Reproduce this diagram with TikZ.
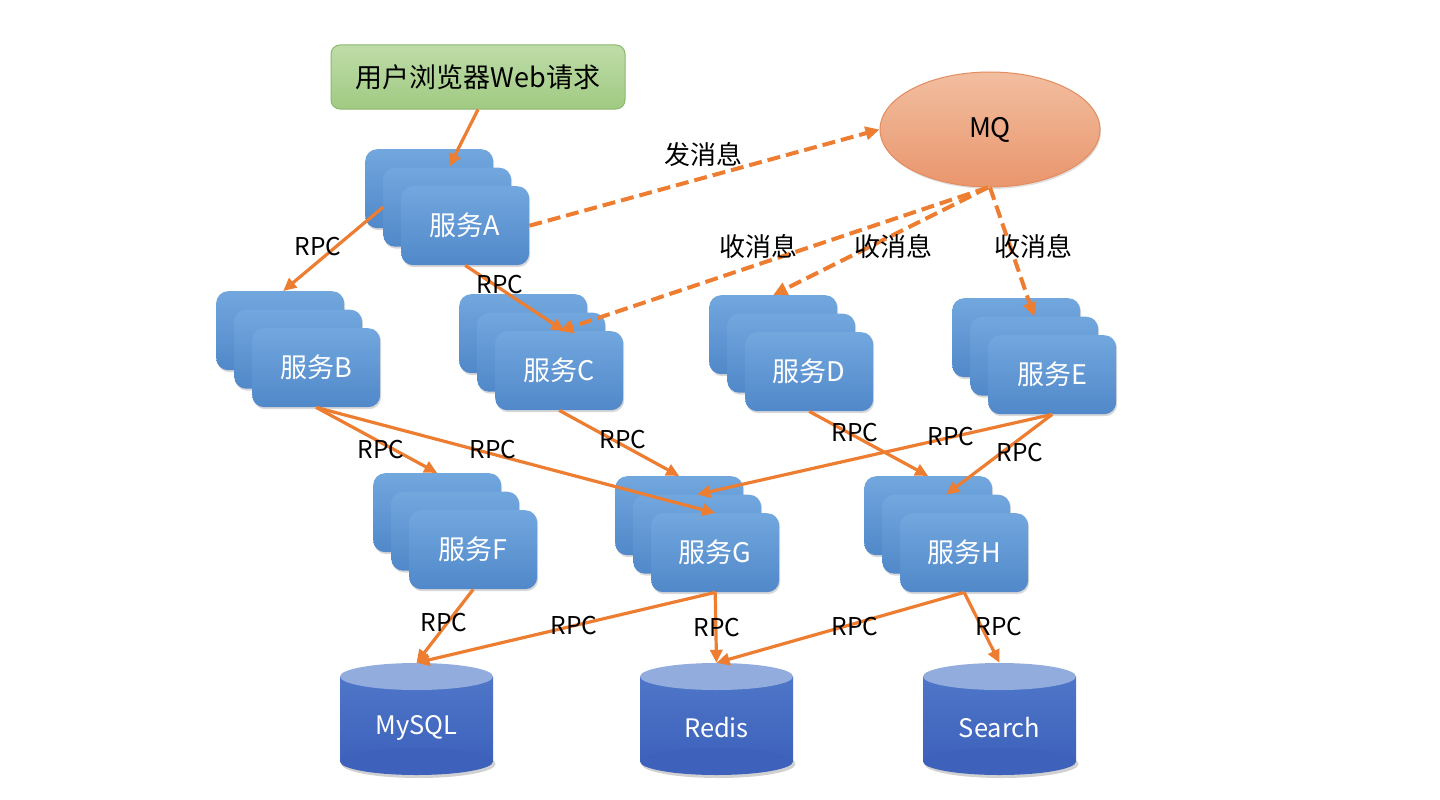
\documentclass[tikz,border=0pt]{standalone}
\usepackage{fontspec}
\setmainfont{Noto Sans CJK SC}
\usetikzlibrary{arrows.meta,shapes.geometric,shadows}
\definecolor{svcTop}{RGB}{114,167,222}
\definecolor{svcBot}{RGB}{80,136,201}
\definecolor{arrowOrange}{RGB}{237,125,49}
\definecolor{webTop}{RGB}{190,220,168}
\definecolor{webBot}{RGB}{160,202,130}
\definecolor{webBorder}{RGB}{140,184,110}
\definecolor{mqTop}{RGB}{242,190,160}
\definecolor{mqBot}{RGB}{233,150,108}
\definecolor{mqBorder}{RGB}{228,140,95}
\definecolor{cylTopc}{RGB}{146,172,222}
\definecolor{cylMid}{RGB}{78,118,200}
\definecolor{cylBot}{RGB}{62,98,188}
\tikzset{
  svc/.style={rectangle, rounded corners=12pt, minimum width=128pt, minimum height=79pt,
    inner sep=0pt, top color=svcTop, bottom color=svcBot, text=white,
    font=\fontsize{27}{31}\selectfont,
    drop shadow={shadow xshift=1pt, shadow yshift=-2pt, opacity=0.3}},
  webbox/.style={rectangle, rounded corners=9pt, minimum width=294pt, minimum height=64pt,
    inner sep=0pt, top color=webTop, bottom color=webBot, draw=webBorder, line width=1pt,
    font=\fontsize{27}{31}\selectfont},
  mqnode/.style={ellipse, minimum width=220pt, minimum height=115pt, inner sep=0pt,
    top color=mqTop, bottom color=mqBot, draw=mqBorder, line width=1pt,
    font=\fontsize{27}{31}\selectfont,
    drop shadow={shadow xshift=1pt, shadow yshift=-2pt, opacity=0.25}},
  rpcarrow/.style={draw=arrowOrange, line width=3.2pt, -{Triangle[length=13pt,width=12pt]}},
  msgarrow/.style={draw=arrowOrange, line width=4pt, dash pattern=on 13pt off 6pt,
    -{Triangle[length=14pt,width=13pt]}},
  rpclbl/.style={font=\fontsize{24.5}{28}\selectfont, text=black, inner sep=0pt},
  cnlbl/.style={font=\fontsize{26}{30}\selectfont, text=black, inner sep=0pt},
  dbtext/.style={font=\fontsize{25.5}{29}\selectfont, text=white, inner sep=0pt},
  dbframe/.style={minimum width=153pt, minimum height=112pt, inner sep=0pt},
}
\newcommand{\svcstack}[4]{%
  \node[svc, anchor=north west] (#1-1) at (#2,#3) {};
  \node[svc, anchor=north west] (#1-2) at ([shift={(18,18.5)}]#1-1.north west) {};
  \node[svc, anchor=north west] (#1-3) at ([shift={(18,18.5)}]#1-2.north west) {#4};
}
\newcommand{\dbcyl}[4]{%
  \fill[black, opacity=0.18] (#2+2,#3+101) ellipse [x radius=77, y radius=14];
  \fill[top color=cylMid, bottom color=cylBot] (#2-76.5,#3+13.5) rectangle (#2+76.5,#3+98.5);
  \fill[cylBot] (#2,#3+98.5) ellipse [x radius=76.5, y radius=13.5];
  \fill[cylTopc] (#2,#3+13.5) ellipse [x radius=76.5, y radius=13.5];
  \node[dbframe] (#1) at (#2,#3+56) {};
  \node[dbtext] (#1-text) at (#2,#3+65) {#4};
}
\begin{document}
\begin{tikzpicture}[x=1pt, y=-1pt]
\useasboundingbox[fill=white] (0,0) rectangle (1440,800);

% top nodes
\node[webbox] (web) at (478,77) {用户浏览器Web请求};
\node[mqnode] (mq) at (990,129.5) {MQ};

% service stacks
\svcstack{A}{365}{149}{服务A}
\svcstack{B}{216}{291}{服务B}
\svcstack{C}{459}{294}{服务C}
\svcstack{D}{709}{295}{服务D}
\svcstack{E}{952}{298}{服务E}
\svcstack{F}{373}{473}{服务F}
\svcstack{G}{615}{476}{服务G}
\svcstack{H}{864}{476}{服务H}

% databases
\dbcyl{mysql}{416.5}{663}{MySQL}
\dbcyl{redis}{716.5}{663}{Redis}
\dbcyl{search}{999.5}{663}{Search}

% connectors
\draw[rpcarrow] (web.south) -- ([shift={(20,-22)}]A-1.center);
\draw[rpcarrow] (A-2.west) -- ([xshift=3pt]B-1.north);
\draw[rpcarrow] (A-3.south) -- ([xshift=5pt]C-3.north);
\draw[msgarrow] (A-3.east) -- (mq.west);
\draw[msgarrow] ([xshift=-2pt]mq.south) -- (C-3.north);
\draw[msgarrow] ([xshift=-2pt]mq.south) -- (D-1.north);
\draw[msgarrow] (mq.south) -- (E-2.north);
\draw[rpcarrow] (B-3.south) -- (F-1.north);
\draw[rpcarrow] (B-3.south) -- (G-3.north);
\draw[rpcarrow] (C-3.south) -- (G-1.north);
\draw[rpcarrow] (D-3.south) -- (H-1.north);
\draw[rpcarrow] (E-3.south) -- (G-2.north);
\draw[rpcarrow] (E-3.south) -- (H-2.north);
\draw[rpcarrow] (F-3.south) -- (mysql.north);
\draw[rpcarrow] (G-3.south) -- (mysql.north);
\draw[rpcarrow] (G-3.south) -- (redis.north);
\draw[rpcarrow] (H-3.south) -- (redis.north);
\draw[rpcarrow] (H-3.south) -- (search.north);

% labels
\node[rpclbl] (l1) at (318,247) {RPC};
\node[rpclbl] (l2) at (500,285) {RPC};
\node[cnlbl] (l3) at (703,155) {发消息};
\node[cnlbl] (l4) at (758,247) {收消息};
\node[cnlbl] (l5) at (893,247) {收消息};
\node[cnlbl] (l6) at (1033,247) {收消息};
\node[rpclbl] (l7) at (381,450) {RPC};
\node[rpclbl] (l8) at (493,450) {RPC};
\node[rpclbl] (l9) at (623,440) {RPC};
\node[rpclbl] (l10) at (855,433) {RPC};
\node[rpclbl] (l11) at (951,437) {RPC};
\node[rpclbl] (l12) at (1020,453) {RPC};
\node[rpclbl] (l13) at (444,623) {RPC};
\node[rpclbl] (l14) at (574,626) {RPC};
\node[rpclbl] (l15) at (717,628) {RPC};
\node[rpclbl] (l16) at (855,627) {RPC};
\node[rpclbl] (l17) at (999,627) {RPC};
\end{tikzpicture}
\end{document}
